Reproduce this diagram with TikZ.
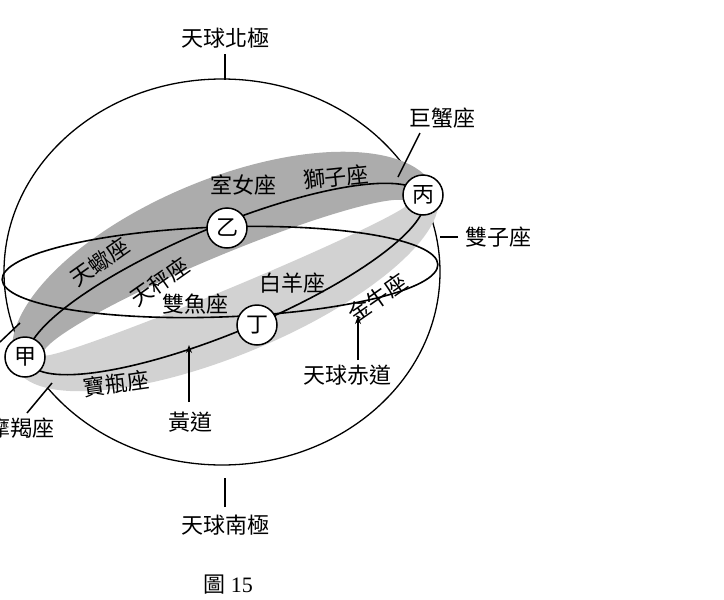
\documentclass[tikz,border=0pt]{standalone}
\usetikzlibrary{arrows.meta}
\usepackage{fontspec}
\setmainfont{Liberation Serif}
\newfontfamily\cjk{Noto Sans CJK TC}
\begin{document}
\begin{tikzpicture}[x=1pt,y=-1pt,
  lbl/.style={font=\cjk\fontsize{22}{22}\selectfont,inner sep=0pt},
  pt/.style={circle,draw,line width=1.5pt,fill=white,minimum size=40pt,inner sep=0pt,font=\cjk\fontsize{22}{22}\selectfont},
  ln/.style={line width=1.5pt},
  arr/.style={line width=1.6pt,-{Stealth[length=8pt,width=6pt]}}]
\useasboundingbox (0,0) rectangle (724,600);
\begin{scope}
\clip (0,0) rectangle (724,600);
% sphere
\draw[line width=1.3pt] (222,272) ellipse [x radius=218,y radius=193];
% band
\begin{scope}[shift={(226,279)},rotate=22.6]
 \begin{scope}
  \clip (-300,300) rectangle (300,0);
  \fill[gray!35,even odd rule] (0,0) ellipse [x radius=228,y radius=76] (0,0) ellipse [x radius=198,y radius=10];
 \end{scope}
 \begin{scope}
  \clip (-300,0) rectangle (300,-300);
  \fill[gray!65,even odd rule] (0,0) ellipse [x radius=228,y radius=100] (0,0) ellipse [x radius=198,y radius=24];
 \end{scope}
 \draw[line width=1.6pt] (0,0) ellipse [x radius=214,y radius=53];
\end{scope}
% equator
\draw[line width=1.6pt,rotate around={2:(220,272)}] (220,272) ellipse [x radius=218,y radius=45];
% points
\node[pt] (yi) at (227,228) {乙};
\node[pt] (bing) at (423,195) {丙};
\node[pt] (ding) at (257,325) {丁};
\node[pt] (jia) at (25,357) {甲};
% labels
\node[lbl] (np) at (225,38) {天球北極};
\coordinate (npe) at (225,80);
\draw[ln] (225,54) -- (npe);
\node[lbl] (sp) at (225,525) {天球南極};
\coordinate (spe) at (225,478);
\draw[ln] (225,507) -- (spe);
\node[lbl] (jx) at (442,118) {巨蟹座};
\coordinate (jxe) at (398,177);
\draw[ln] (420,133) -- (jxe);
\node[lbl,anchor=west] (sz) at (465,237) {雙子座};
\coordinate (sze) at (440,237);
\draw[ln] (458,237) -- (sze);
\node[lbl] at (243,185) {室女座};
\node[lbl,rotate=6] at (336,177) {獅子座};
\node[lbl,rotate=35] at (100,262) {天蠍座};
\node[lbl,rotate=35] at (160,282) {天秤座};
\node[lbl] at (292,283) {白羊座};
\node[lbl] at (195,304) {雙魚座};
\node[lbl,rotate=35] at (378,298) {金牛座};
\node[lbl,rotate=8] at (116,384) {寶瓶座};
\node[lbl] (hd) at (190,422) {黃道};
\coordinate (hde) at (189,345);
\draw[arr] (189,402) -- (hde);
\node[lbl] (cd) at (347,375) {天球赤道};
\coordinate (cde) at (358,316);
\draw[arr] (358,360) -- (cde);
\node[lbl,anchor=east] (mj) at (55,428) {摩羯座};
\coordinate (mje) at (52,383);
\draw[ln] (27,413) -- (mje);
\coordinate (ss) at (20,323);
\draw[ln] (0,342) -- (ss);
\end{scope}
\node[font=\fontsize{22}{22}\selectfont] (cap) at (228,585) {{\cjk 圖} 15};
\end{tikzpicture}
\end{document}
